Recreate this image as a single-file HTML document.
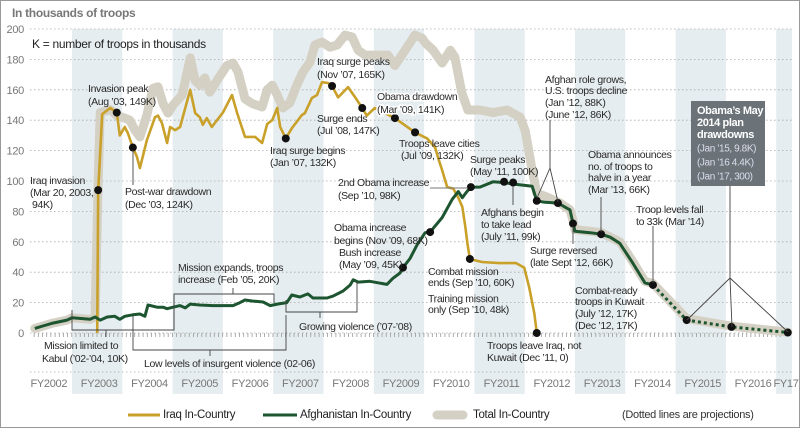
<!DOCTYPE html>
<html><head><meta charset="utf-8"><style>
html,body{margin:0;padding:0;background:#fff}
svg{display:block}
text{font-family:"Liberation Sans",sans-serif;}
.a{font-size:10.5px;fill:#2a2a2a;letter-spacing:-0.35px}
.h{stroke:#fff;stroke-width:3px;paint-order:stroke}
.ax{font-size:11px;fill:#777;letter-spacing:-0.3px}
</style></head><body>
<svg id="chart" width="800" height="428" viewBox="0 0 800 428" xmlns="http://www.w3.org/2000/svg">
<rect x="0.5" y="0.5" width="799" height="427" fill="#fff" stroke="#999"/>
<g id="bands"></g>
<g id="grid"></g>
<g id="series"></g>
<g id="dots"></g>
<g id="ann" stroke="#444" stroke-width="0.9" fill="none">
 <path d="M133 150V185"/>
 <path d="M430 188H468" stroke="#777"/>
 <path d="M513 186V205"/>
 <path d="M550 120V168L537 198M550 168L558 202"/>
 <path d="M601 197V232"/>
 <path d="M573 226V244"/>
 <path d="M653 226V283"/>
 <path d="M730 186V278L687 320M730 278L732 327M730 278L788 332"/>
 <path d="M72 310V330H174V295M106 330V337"/>
 <path d="M133 315V350H286V315M210 350V356"/>
 <path d="M174 330V294H274V303M233 294V288"/>
 <path d="M286 300V312H357V282M320 312V318"/>
</g>
<g id="labels" dominant-baseline="middle">
 <text x="12" y="14" style="font-size:12px;font-weight:bold;fill:#777;letter-spacing:-0.3px">In thousands of troops</text>
 <text x="32" y="45" style="font-size:12px;fill:#222;letter-spacing:-0.3px">K = number of troops in thousands</text>
 <text class="a" x="30" y="181">Iraq invasion</text>
 <text class="a" x="30" y="193">(Mar 20, 2003,</text>
 <text class="a" x="32" y="205">94K)</text>
 <text class="a" x="88" y="89">Invasion peak</text>
 <text class="a" x="88" y="102">(Aug ’03, 149K)</text>
 <text class="a" x="125" y="192">Post-war drawdown</text>
 <text class="a" x="125" y="205">(Dec ’03, 124K)</text>
 <text class="a" x="317" y="62">Iraq surge peaks</text>
 <text class="a" x="317" y="75">(Nov ’07, 165K)</text>
 <text class="a h" x="377" y="97">Obama drawdown</text>
 <text class="a h" x="377" y="110">(Mar ’09, 141K)</text>
 <text class="a" x="317" y="119">Surge ends</text>
 <text class="a" x="317" y="131">(Jul ’08, 147K)</text>
 <text class="a" x="270" y="151">Iraq surge begins</text>
 <text class="a" x="270" y="163">(Jan ’07, 132K)</text>
 <text class="a" x="399" y="144">Troops leave cities</text>
 <text class="a" x="401" y="156">(Jul ’09, 132K)</text>
 <text class="a" x="470" y="160">Surge peaks</text>
 <text class="a" x="470" y="172">(May ’11, 100K)</text>
 <text class="a" x="545" y="80">Afghan role grows,</text>
 <text class="a" x="545" y="91">U.S. troops decline</text>
 <text class="a" x="545" y="103">(Jan ’12, 88K)</text>
 <text class="a" x="545" y="115">(June ’12, 86K)</text>
 <text class="a" x="588" y="155">Obama announces</text>
 <text class="a" x="588" y="167">no. of troops to</text>
 <text class="a" x="588" y="178">halve in a year</text>
 <text class="a" x="588" y="190">(Mar ’13, 66K)</text>
 <text class="a" x="636" y="210">Troop levels fall</text>
 <text class="a" x="636" y="222">to 33k (Mar ’14)</text>
 <text class="a" x="338" y="183">2nd Obama increase</text>
 <text class="a" x="338" y="196">(Sep ’10, 98K)</text>
 <text class="a" x="334" y="228">Obama increase</text>
 <text class="a" x="334" y="241">begins (Nov ’09, 68K)</text>
 <text class="a" x="339" y="253">Bush increase</text>
 <text class="a" x="339" y="265">(May ’09, 45K)</text>
 <text class="a" x="481" y="213">Afghans begin</text>
 <text class="a" x="481" y="225">to take lead</text>
 <text class="a" x="481" y="237">(July ’11, 99k)</text>
 <text class="a" x="530" y="251">Surge reversed</text>
 <text class="a" x="530" y="263">(late Sept ’12, 66K)</text>
 <text class="a" x="428" y="272">Combat mission</text>
 <text class="a" x="428" y="283">ends (Sep ’10, 60K)</text>
 <text class="a" x="428" y="299">Training mission</text>
 <text class="a" x="428" y="310">only (Sep ’10, 48k)</text>
 <text class="a" x="575" y="291">Combat-ready</text>
 <text class="a" x="575" y="302">troops in Kuwait</text>
 <text class="a" x="575" y="314">(July ’12, 17K)</text>
 <text class="a" x="575" y="326">(Dec ’12, 17K)</text>
 <text class="a" x="487" y="346">Troops leave Iraq, not</text>
 <text class="a" x="487" y="358">Kuwait (Dec ’11,  0)</text>
 <text class="a" x="44" y="346">Mission limited to</text>
 <text class="a" x="42" y="359">Kabul (’02-’04, 10K)</text>
 <text class="a" x="144" y="364">Low levels of insurgent violence (02-06)</text>
 <text class="a" x="178" y="268">Mission expands, troops</text>
 <text class="a" x="178" y="280">increase (Feb ’05, 20K)</text>
 <text class="a" x="299" y="327">Growing violence (’07-’08)</text>
</g>
<g>
 <rect x="691" y="101" width="74" height="85" fill="#6b7378"/>
 <text x="697" y="111" dominant-baseline="middle" style="font-size:11px;font-weight:bold;fill:#fff;letter-spacing:-0.4px">Obama’s May</text>
 <text x="697" y="123" dominant-baseline="middle" style="font-size:11px;font-weight:bold;fill:#fff;letter-spacing:-0.4px">2014 plan</text>
 <text x="697" y="135" dominant-baseline="middle" style="font-size:11px;font-weight:bold;fill:#fff;letter-spacing:-0.4px">drawdowns</text>
 <text x="697" y="149" dominant-baseline="middle" style="font-size:10px;fill:#dde;letter-spacing:-0.4px">(Jan ’15, 9.8K)</text>
 <text x="697" y="163" dominant-baseline="middle" style="font-size:10px;fill:#dde;letter-spacing:-0.4px">(Jan ’16 4.4K)</text>
 <text x="697" y="177" dominant-baseline="middle" style="font-size:10px;fill:#dde;letter-spacing:-0.4px">(Jan ’17, 300)</text>
</g>
<g id="legend" dominant-baseline="middle">
 <line x1="128" y1="415" x2="160" y2="415" stroke="#c9a12a" stroke-width="3"/>
 <text x="163" y="415" style="font-size:11.5px;fill:#222;letter-spacing:-0.3px">Iraq In-Country</text>
 <line x1="263" y1="415" x2="297" y2="415" stroke="#1d5530" stroke-width="3"/>
 <text x="300" y="415" style="font-size:11.5px;fill:#222;letter-spacing:-0.3px">Afghanistan In-Country</text>
 <line x1="437" y1="415" x2="463" y2="415" stroke="#d4d0c4" stroke-width="9" stroke-linecap="round"/>
 <text x="473" y="415" style="font-size:11.5px;fill:#222;letter-spacing:-0.3px">Total In-Country</text>
 <text x="622" y="415" style="font-size:11px;fill:#333;letter-spacing:-0.3px">(Dotted lines are projections)</text>
</g>
</svg>
<script>
const yTicks=[0,20,40,60,80,100,120,140,160,180,200];
const fyLabels=["FY2002","FY2003","FY2004","FY2005","FY2006","FY2007","FY2008","FY2009","FY2010","FY2011","FY2012","FY2013","FY2014","FY2015","FY2016","FY17"];
const afghanT=[2002.01,2002.17,2002.37,2002.65,2002.75,2003.11,2003.21,2003.31,2003.45,2003.60,2003.70,2003.80,2003.96,2004.10,2004.20,2004.26,2004.44,2004.56,2004.64,2004.76,2004.90,2005.00,2005.10,2005.29,2005.55,2005.95,2006.09,2006.19,2006.35,2006.55,2006.69,2006.83,2007.02,2007.12,2007.28,2007.44,2007.54,2007.82,2007.94,2008.14,2008.28,2008.34,2008.44,2008.67,2009.01,2009.13,2009.27,2009.33,2009.47,2009.61,2009.77,2009.87,2010.11,2010.31,2010.43,2010.51,2010.60,2010.68,2010.86,2011.12,2011.32,2011.52,2011.90,2011.99,2012.15,2012.41,2012.65,2012.71,2012.75,2013.05,2013.27,2013.45,2013.64,2013.90,2014.14,2014.30];
const afghanV=[3,4.6,6.5,8.5,10,9,10.5,8.5,10.5,11,9,11,12,12.5,11,18.4,17,17,16,17,18,16.5,19,18.4,18,18,20,21.7,21,20.4,18,19,20,25,23.7,25.7,23,23,24.3,27.6,31.6,35,33.5,34,32,36,39.5,43,49,58,66,66.4,76,88,93,89,93,96,96,99.5,99,98,96.5,87,86,85.5,81,72,67,66,65,63,59,46,33,31.6];
const projT=[2014.30,2014.97,2015.86,2016.98];
const projV=[31.6,8.5,4,0.3];
const iraqT=[2003.25,2003.27,2003.35,2003.51,2003.64,2003.70,2003.80,2003.86,2003.96,2004.04,2004.10,2004.24,2004.40,2004.46,2004.54,2004.64,2004.70,2004.80,2004.90,2005.10,2005.20,2005.29,2005.35,2005.43,2005.53,2005.75,2005.93,2006.03,2006.19,2006.39,2006.53,2006.63,2006.73,2006.83,2006.89,2007.00,2007.12,2007.32,2007.38,2007.52,2007.62,2007.72,2007.84,2007.92,2008.04,2008.24,2008.38,2008.52,2008.61,2008.77,2009.17,2009.31,2009.57,2009.81,2009.97,2010.03,2010.11,2010.21,2010.33,2010.43,2010.51,2010.57,2010.61,2010.66,2010.90,2011.24,2011.58,2011.74,2011.84,2011.94,2011.99];
const iraqV=[0,94,144,148,145,130,135.5,131.6,122,116,108.5,127,142,143,138,125,135.5,133.5,135.5,160,144.7,142,137,141.4,135.5,145,156.6,145,129,129,125,137.5,140,148,135.5,128,134.7,143.4,144.7,154.6,156.6,165,164.5,162.5,155,161.8,155,148,143,148,141.4,138,132,128,122,115,107,96,95,89,83,70,59,48.7,46.7,46,46,43,30,13,0];
const totalT=[2002.01,2002.37,2002.65,2002.75,2003.11,2003.21,2003.27,2003.31,2003.51,2003.64,2003.80,2003.90,2004.00,2004.10,2004.24,2004.36,2004.46,2004.56,2004.66,2004.76,2004.94,2005.10,2005.20,2005.29,2005.39,2005.49,2005.63,2005.83,2005.95,2006.05,2006.19,2006.33,2006.53,2006.63,2006.73,2006.83,2006.94,2007.08,2007.22,2007.34,2007.48,2007.58,2007.72,2007.88,2008.02,2008.18,2008.32,2008.44,2008.58,2009.03,2009.17,2009.27,2009.41,2009.57,2009.71,2009.77,2009.93,2010.11,2010.27,2010.36,2010.50,2010.62,2010.86,2011.12,2011.40,2011.66,2011.76,2011.90,2011.99,2012.19,2012.45,2012.65,2012.71,2012.75,2013.05,2013.27,2013.64,2013.90,2014.14,2014.30,2014.97,2015.86,2016.98];
const totalV=[3,6.5,8.5,10,9,10.5,100,145,147,143,141.4,140,133.5,129,143.4,161,162,151,144.7,150,156.6,181,166,163,167.8,158.5,166,176,177.6,171.7,154,151,148.7,160,163,156.6,148,151.3,163,171.7,178,189.5,191.4,188,189.5,196,194.7,186,182.8,182.8,176,181,188,196,194,191,186,177.6,186,181.6,158,146.7,146.7,145,146.7,142,133,107,92,89.5,85.5,81,74,68,67,66,60,47,34,32.5,9.5,4.5,0.5];
const iraqDotT=[2003.27,2003.64,2003.96,2007.00,2007.92,2008.52,2009.17,2009.57,2010.66,2011.99];
const iraqDotV=[94,145,122,128,162.5,148,141.4,132,48.7,0];
const afghanDotT=[2009.33,2009.87,2010.68,2011.34,2011.52,2011.99,2012.41,2012.71,2013.27,2014.30,2014.97,2015.86,2016.98];
const afghanDotV=[43,66.4,96,99.5,99,87,85.5,72,65,31.6,8.5,4,0.3];

const NS="http://www.w3.org/2000/svg";
function X(t){return 72+(t-2002.75)*50.3;}
function Y(v){return 333-1.52*v;}
function el(tag,attrs,parent){const e=document.createElementNS(NS,tag);for(const k in attrs)e.setAttribute(k,attrs[k]);parent.appendChild(e);return e;}
const bands=document.getElementById('bands'),grid=document.getElementById('grid'),series=document.getElementById('series'),dots=document.getElementById('dots');
fyLabels.forEach((lab,i)=>{
  const start=2001.75+i;
  if(i%2===1){
    const x0=X(start),x1=Math.min(X(start+1),792);
    const b=el('rect',{x:x0,y:29,width:x1-x0,height:365,fill:'#e6edf0'},bands);
    
    
  }
  const cx=i===fyLabels.length-1?786:X(start+0.5)+2;
  const t=el('text',{x:cx,y:387,'text-anchor':'middle',class:'ax'},grid);
  t.textContent=lab;
  
  
});
yTicks.forEach(v=>{
  const l=el('line',{x1:30,x2:792,y1:Y(v),y2:Y(v),stroke:'#aaa','stroke-width':0.8,'stroke-dasharray':'1.5 2.5'},grid);
  
  
  const t=el('text',{x:24,y:Y(v)+4,'text-anchor':'end',class:'ax'},grid);
  t.textContent=v;
  
  
});
const bl=el('line',{x1:30,x2:792,y1:372,y2:372,stroke:'#aaa','stroke-width':0.8,'stroke-dasharray':'1.5 2.5'},grid);


let tk='';for(let m=0;m<=180;m++){const x=X(2001.83+m/12);if(x>792)break;if(x<30)continue;tk+=`M${x.toFixed(1)} 333v4`;}
const tks=el('path',{d:tk,stroke:'#999','stroke-width':0.8},grid);


function pathOf(T,V){return T.map((t,i)=>(i?'L':'M')+X(t).toFixed(1)+' '+Y(V[i]).toFixed(1)).join('');}
const tot=el('path',{d:pathOf(totalT,totalV),fill:'none',stroke:'#d4d0c4','stroke-width':9,'stroke-linejoin':'round','stroke-linecap':'round'},series);


const iq=el('path',{d:pathOf(iraqT,iraqV),fill:'none',stroke:'#c9a12a','stroke-width':2.6,'stroke-linejoin':'round'},series);


const af=el('path',{d:pathOf(afghanT,afghanV),fill:'none',stroke:'#1d5530','stroke-width':3,'stroke-linejoin':'round'},series);


const pr=el('path',{d:pathOf(projT,projV),fill:'none',stroke:'#1d5530','stroke-width':3,'stroke-dasharray':'3 3'},series);


iraqDotT.forEach((t,i)=>{const c=el('circle',{cx:X(t),cy:Y(iraqDotV[i]),r:4,fill:'#111'},dots);
  
  });
afghanDotT.forEach((t,i)=>{const c=el('circle',{cx:X(t),cy:Y(afghanDotV[i]),r:4,fill:'#111'},dots);
  
  });
const lbl=document.getElementById('labels');
document.getElementById('chart').appendChild(lbl);
</script>
</body></html>
